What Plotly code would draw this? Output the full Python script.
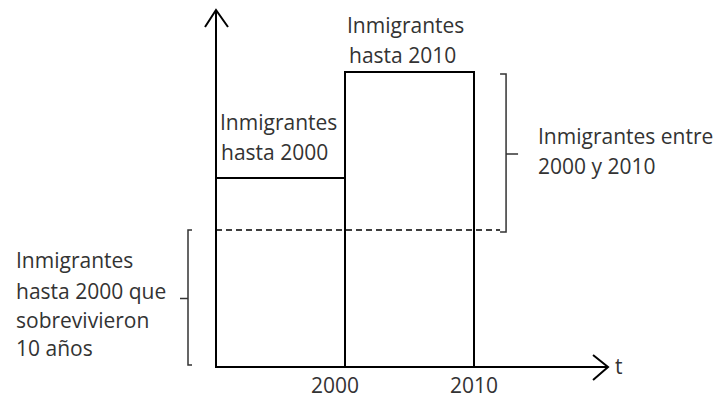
import plotly.graph_objects as go

# ---- data (arbitrary units) ----
periods = ["hasta 2000", "hasta 2010"]
period_start = [1990, 2000]
period_end = [2000, 2010]
stock = [189, 295]          # immigrant stock heights
survivors_2000 = 137        # immigrants up to 2000 that survived 10 years
tick_years = [2000, 2010]
tick_labels = ["2000", "2010"]
origin_year = 1990

OFF = 8                      # page body margin
W, H = 728 - OFF, 402 - OFF
PX_PER_YEAR = 12.9
X0_PX, Y0_PX = 216 - OFF, 367 - OFF
x_min = origin_year - X0_PX / PX_PER_YEAR
x_max = origin_year + (W - X0_PX) / PX_PER_YEAR
y_min, y_max = -(H - Y0_PX), Y0_PX

fig = go.Figure()

# bars
fig.add_trace(go.Bar(
    x=[(s + e) / 2 for s, e in zip(period_start, period_end)],
    y=stock,
    width=[e - s for s, e in zip(period_start, period_end)],
    marker=dict(color="white", line=dict(color="black", width=2)),
    hoverinfo="skip", showlegend=False,
))

line_k = dict(color="black", width=2)
dx = 1 / PX_PER_YEAR

# y axis with open arrowhead
y_top = stock[1] + 62
fig.add_trace(go.Scatter(x=[origin_year, origin_year], y=[0, y_top], mode="lines",
                         line=line_k, hoverinfo="skip", showlegend=False))
fig.add_trace(go.Scatter(x=[origin_year - 11 * dx, origin_year, origin_year + 12 * dx],
                         y=[y_top - 17, y_top, y_top - 17], mode="lines",
                         line=line_k, hoverinfo="skip", showlegend=False))
# x axis with open arrowhead
x_tip = tick_years[1] + 10.39
fig.add_trace(go.Scatter(x=[origin_year, x_tip], y=[0, 0], mode="lines",
                         line=line_k, hoverinfo="skip", showlegend=False))
fig.add_trace(go.Scatter(x=[x_tip - 15 * dx, x_tip, x_tip - 15 * dx],
                         y=[12, 0, -13], mode="lines",
                         line=line_k, hoverinfo="skip", showlegend=False))

# dashed survivors line
brace_r_x = tick_years[1] + 2.02
fig.add_trace(go.Scatter(x=[origin_year, brace_r_x], y=[survivors_2000, survivors_2000],
                         mode="lines", line=dict(color="black", width=1.5, dash="6px,4px"),
                         hoverinfo="skip", showlegend=False))

brace = dict(color="#333333", width=1.5)
# right brace (between survivors and stock 2010)
bx1, bx2, bx3 = brace_r_x, brace_r_x + 6 * dx, brace_r_x + 18 * dx
mid_r = (stock[1] + survivors_2000) / 2
fig.add_trace(go.Scatter(x=[bx1, bx2, bx2, bx1], y=[stock[1] - 2, stock[1] - 2, survivors_2000 - 2, survivors_2000 - 2],
                         mode="lines", line=brace, hoverinfo="skip", showlegend=False))
fig.add_trace(go.Scatter(x=[bx2, bx3], y=[mid_r - 3, mid_r - 3], mode="lines", line=brace,
                         hoverinfo="skip", showlegend=False))
# left brace (0 to survivors)
lx1, lx2, lx3 = origin_year - 24 * dx, origin_year - 28 * dx, origin_year - 36 * dx
mid_l = survivors_2000 / 2
fig.add_trace(go.Scatter(x=[lx1, lx2, lx2, lx1], y=[survivors_2000, survivors_2000, 2, 2],
                         mode="lines", line=brace, hoverinfo="skip", showlegend=False))
fig.add_trace(go.Scatter(x=[lx2, lx3], y=[mid_l, mid_l], mode="lines", line=brace,
                         hoverinfo="skip", showlegend=False))

FONT = dict(family="Open Sans", size=21, color="#333333")

def txt(s, xp, yp, xanchor="left"):
    fig.add_annotation(text=s, x=(xp - OFF) / W, y=1 - (yp - OFF) / H, xref="paper", yref="paper",
                       xanchor=xanchor, yanchor="middle", showarrow=False, font=FONT)

txt("Inmigrantes", 345, 25)
txt("hasta 2010", 347, 55)
txt("Inmigrantes", 218, 122)
txt("hasta 2000", 219, 152)
txt("Inmigrantes entre", 536, 136)
txt("2000 y 2010", 536, 166)
txt("Inmigrantes", 14, 260)
txt("hasta 2000 que", 14, 291)
txt("sobrevivieron", 14, 320)
txt("10 años", 14, 348)
txt("t", 613, 366)

fig.update_layout(
    width=W, height=H, margin=dict(l=0, r=0, t=0, b=0),
    paper_bgcolor="white", plot_bgcolor="white",
    xaxis=dict(range=[x_min, x_max], visible=False, fixedrange=True),
    yaxis=dict(range=[y_min, y_max], visible=False, fixedrange=True),
    barmode="overlay",
)
# x tick labels
for yr, lab in zip(tick_years, tick_labels):
    fig.add_annotation(text=lab, x=yr - 0.75 if yr == tick_years[0] else yr, y=y_min + 1,
                       xref="x", yref="y", showarrow=False, font=FONT,
                       xanchor="center", yanchor="bottom")

fig.write_html("out.html")
